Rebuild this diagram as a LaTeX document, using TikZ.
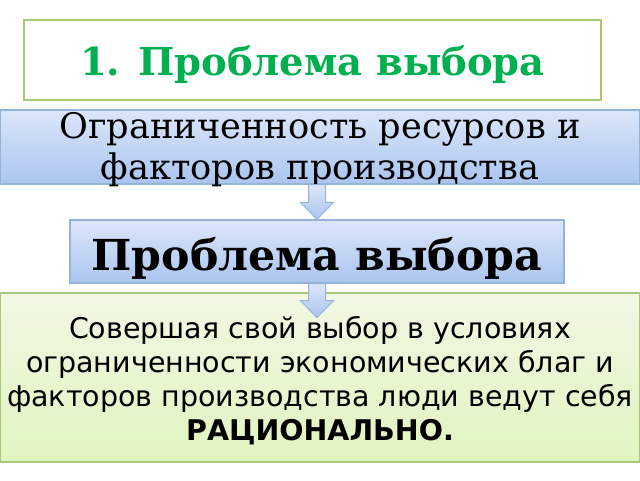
\documentclass[tikz,border=0pt]{standalone}
\usepackage{fontspec}
\setmainfont{DejaVu Serif}
\setsansfont{DejaVu Sans}
\usetikzlibrary{calc}

\definecolor{titlegreen}{HTML}{00B050}
\definecolor{titleframe}{HTML}{A8C878}
\definecolor{blueframe}{HTML}{95B3D7}
\definecolor{bluetop}{HTML}{DCE6F9}
\definecolor{bluebot}{HTML}{AAC5F0}
\definecolor{greenframe}{HTML}{A9C77E}
\definecolor{greentop}{HTML}{F1F8E4}
\definecolor{greenbot}{HTML}{E0F4BF}

\tikzset{
    titlebox/.style={draw=titleframe, line width=1.2pt, fill=white,
        minimum width=577pt, minimum height=80pt, inner sep=0pt},
    bluebox/.style={draw=blueframe, line width=1.2pt,
        top color=bluetop, bottom color=bluebot, inner sep=0pt},
    greenbox/.style={draw=greenframe, line width=1.2pt,
        top color=greentop, bottom color=greenbot, inner sep=0pt},
    arrowbox/.style={draw=blueframe, line width=1pt,
        top color=bluetop, bottom color=bluebot},
}
\def\shaft{8.5pt}
\def\head{16.5pt}
\def\headlen{17pt}
% block arrow from #1 down to tip #2
\newcommand\blockarrow[2]{%
    \draw [arrowbox] ([xshift=-\shaft]#1) -- ([xshift=-\shaft,yshift=\headlen]#2)
        -- ([xshift=-\head,yshift=\headlen]#2) -- (#2)
        -- ([xshift=\head,yshift=\headlen]#2) -- ([xshift=\shaft,yshift=\headlen]#2)
        -- ([xshift=\shaft]#1) -- cycle;
}

\begin{document}
\begin{tikzpicture}[x=1pt,y=1pt]
\useasboundingbox (0,0) rectangle (640,480);
% title
\node [titlebox, text height=31pt, text depth=0pt,
    font=\fontsize{38.5}{42}\selectfont\bfseries, text=titlegreen]
    (title) at (312.5,420) {1. Проблема выбора};
% limited resources
\node [bluebox, minimum width=639pt, minimum height=74pt] (limits) at (320,333) {};
\node [align=center, inner sep=0pt, anchor=base, font=\fontsize{35.2}{41}\selectfont]
    (limits text) at (320,300) {Ограниченность ресурсов и\\факторов производства};
% choice problem
\node [bluebox, minimum width=494pt, minimum height=63pt, text height=37pt, text depth=0pt,
    font=\fontsize{42.7}{46}\selectfont\bfseries] (choice) at (317,228.5) {Проблема выбора};
% conclusion
\node [greenbox, minimum width=639pt, minimum height=169pt] (rational) at (320,102.5) {};
\node [align=center, inner sep=0pt, anchor=base, font=\sffamily\fontsize{28.5}{34}\selectfont]
    (rational text) at (320,40) {Совершая свой выбор в условиях\\
    ограниченности экономических благ и\\
    факторов производства люди ведут себя\\
    \textbf{РАЦИОНАЛЬНО.}};
% arrows
\coordinate (a1top) at (limits.south -| choice.north);
\blockarrow{a1top}{choice.north}
\coordinate (a2tip) at ([yshift=-34pt]choice.south);
\blockarrow{choice.south}{a2tip}
\end{tikzpicture}
\end{document}
